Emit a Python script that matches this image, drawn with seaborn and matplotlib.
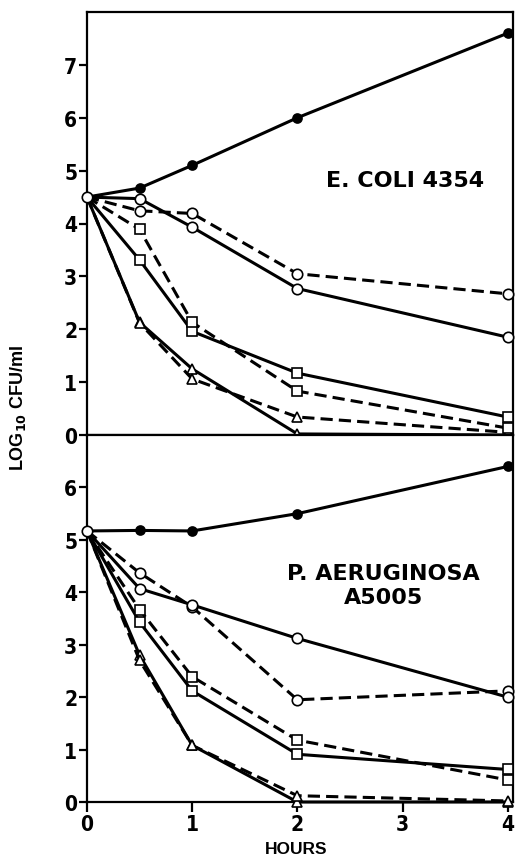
import seaborn as sns
import matplotlib.pyplot as plt

sns.set_style("ticks")
plt.rcParams['font.family'] = ['DejaVu Sans']
plt.rcParams['mathtext.default'] = 'bf'
plt.rcParams['text.color'] = 'black'
plt.rcParams['xtick.color'] = 'black'
plt.rcParams['ytick.color'] = 'black'

hours = [0, 0.5, 1, 2, 4]

# E. coli 4354  (log10 CFU/ml)
ecoli_control = [4.5, 4.67, 5.1, 6.0, 7.6]
ecoli_circle_solid = [4.5, 4.47, 3.93, 2.77, 1.85]
ecoli_circle_dash = [4.5, 4.24, 4.19, 3.05, 2.67]
ecoli_square_solid = [4.5, 3.31, 1.96, 1.17, 0.34]
ecoli_square_dash = [4.5, 3.89, 2.13, 0.83, 0.13]
ecoli_tri_solid = [4.5, 2.13, 1.25, 0.02, 0.0]
ecoli_tri_dash = [4.5, 2.12, 1.06, 0.34, 0.05]

# P. aeruginosa A5005
pa_control = [5.17, 5.18, 5.17, 5.5, 6.4]
pa_circle_solid = [5.17, 4.07, 3.76, 3.12, 2.0]
pa_circle_dash = [5.17, 4.37, 3.72, 1.95, 2.12]
pa_square_solid = [5.17, 3.43, 2.12, 0.91, 0.62]
pa_square_dash = [5.17, 3.67, 2.39, 1.18, 0.42]
pa_tri_solid = [5.17, 2.8, 1.08, 0.0, 0.0]
pa_tri_dash = [5.17, 2.7, 1.08, 0.12, 0.02]

# (marker, filled, dashed, size)
styles = [('o', True, False, 6.5),
          ('^', False, False, 7.5), ('^', False, True, 7.5),
          ('s', False, False, 7), ('s', False, True, 7),
          ('o', False, True, 7.5), ('o', False, False, 7.5)]

ecoli = [ecoli_control, ecoli_tri_solid, ecoli_tri_dash, ecoli_square_solid,
         ecoli_square_dash, ecoli_circle_dash, ecoli_circle_solid]
pa = [pa_control, pa_tri_solid, pa_tri_dash, pa_square_solid,
      pa_square_dash, pa_circle_dash, pa_circle_solid]

fig = plt.figure(figsize=(5.18, 8.62), dpi=100)
ax1 = fig.add_axes([87/518, 1-436/862, 426/518, 423/862])
ax2 = fig.add_axes([87/518, 1-803/862, 426/518, 367/862])


def draw(ax, series):
    for i, (vals, (m, filled, dashed, ms)) in enumerate(zip(series, styles)):
        last = i == len(series) - 1
        sns.lineplot(x=hours, y=vals, ax=ax, color='black', lw=2.2,
                     linestyle=(0, (4, 2)) if dashed else '-',
                     marker=m, ms=ms, mfc='black' if filled else 'white',
                     mec='black', mew=1.2, clip_on=False, zorder=3 + i,
                     markevery=None if last else [1, 2, 3, 4])


draw(ax1, ecoli)
draw(ax2, pa)

for ax, top in [(ax1, 8), (ax2, 7)]:
    ax.set_xlim(0, 4.05)
    ax.set_ylim(0, top)
    ax.set_yticks(range(0, top))
    ax.set_xlabel('')
    ax.set_ylabel('')
    for s in ax.spines.values():
        s.set_visible(True)
        s.set_linewidth(1.6)
        s.set_color('black')
    ax.tick_params(axis='both', direction='out', length=6, width=1.6,
                   labelsize=15, pad=1)

ax1.set_xticks([])
ax2.set_xticks([0, 1, 2, 3, 4])
ax2.tick_params(axis='x', length=7, pad=2)
for ax in (ax1, ax2):
    for lab in ax.get_yticklabels() + ax.get_xticklabels():
        lab.set_fontweight('bold')
        lab.set_fontstretch('condensed')

ax1.text(3.02, 4.83, 'E. COLI 4354', ha='center', va='center',
         fontsize=16, fontweight='bold', family='DejaVu Sans')
ax2.text(2.82, 4.13, 'P. AERUGINOSA\nA5005', ha='center', va='center',
         fontsize=16, fontweight='bold', family='DejaVu Sans', linespacing=1.25)

fig.text(296/518, 1-850/862, 'HOURS', ha='center', va='center',
         fontsize=12.5, fontweight='bold', family='Liberation Sans')
fig.text(18/518, 1-408/862, r'LOG$_{10}$ CFU/ml', rotation=90, ha='center',
         va='center', fontsize=13, fontweight='bold', family='Liberation Sans')

fig.savefig('out.png', dpi=100)
